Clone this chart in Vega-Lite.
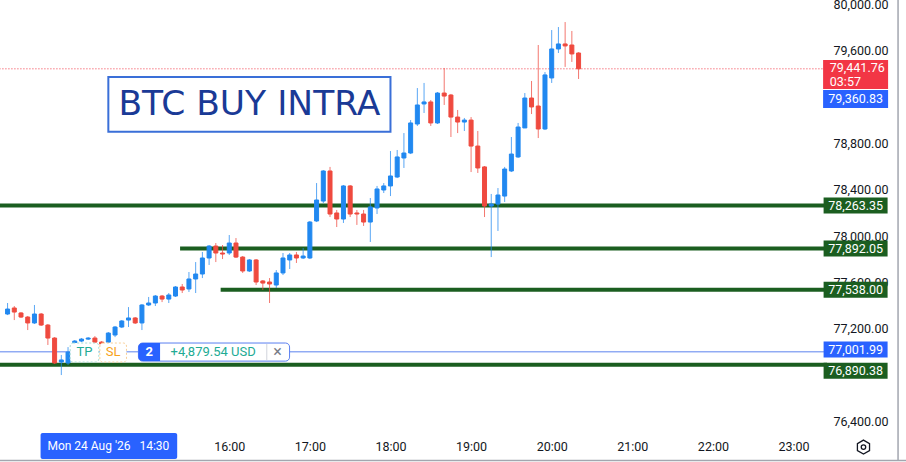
{
  "$schema": "https://vega.github.io/schema/vega-lite/v6.json",
  "width": 826,
  "height": 432,
  "autosize": "none",
  "padding": {"left": 0, "top": 0, "right": 80, "bottom": 30},
  "background": "white",
  "config": {"view": {"stroke": null}, "font": "Roboto"},
  "datasets": {
    "candles": [
      {"t":"2026-08-24T13:15","o":77328,"h":77423,"l":77319,"c":77371},
      {"t":"2026-08-24T13:20","o":77380,"h":77397,"l":77276,"c":77345},
      {"t":"2026-08-24T13:25","o":77337,"h":77345,"l":77294,"c":77302},
      {"t":"2026-08-24T13:30","o":77302,"h":77311,"l":77190,"c":77251},
      {"t":"2026-08-24T13:35","o":77251,"h":77406,"l":77242,"c":77328},
      {"t":"2026-08-24T13:40","o":77328,"h":77337,"l":77225,"c":77233},
      {"t":"2026-08-24T13:45","o":77233,"h":77242,"l":77061,"c":77121},
      {"t":"2026-08-24T13:50","o":77121,"h":77129,"l":76897,"c":76906},
      {"t":"2026-08-24T13:55","o":76914,"h":76975,"l":76802,"c":76932},
      {"t":"2026-08-24T14:00","o":76906,"h":77043,"l":76888,"c":77000},
      {"t":"2026-08-24T14:05","o":77078,"h":77104,"l":77052,"c":77095},
      {"t":"2026-08-24T14:10","o":77095,"h":77121,"l":77086,"c":77112},
      {"t":"2026-08-24T14:15","o":77112,"h":77129,"l":77104,"c":77121},
      {"t":"2026-08-24T14:20","o":77121,"h":77138,"l":77078,"c":77086},
      {"t":"2026-08-24T14:25","o":77086,"h":77095,"l":77052,"c":77069},
      {"t":"2026-08-24T14:30","o":77086,"h":77173,"l":77069,"c":77164},
      {"t":"2026-08-24T14:35","o":77147,"h":77225,"l":77129,"c":77216},
      {"t":"2026-08-24T14:40","o":77216,"h":77276,"l":77207,"c":77268},
      {"t":"2026-08-24T14:45","o":77276,"h":77388,"l":77216,"c":77294},
      {"t":"2026-08-24T14:50","o":77294,"h":77302,"l":77242,"c":77251},
      {"t":"2026-08-24T14:55","o":77251,"h":77414,"l":77190,"c":77406},
      {"t":"2026-08-24T15:00","o":77406,"h":77475,"l":77397,"c":77423},
      {"t":"2026-08-24T15:05","o":77423,"h":77492,"l":77397,"c":77483},
      {"t":"2026-08-24T15:10","o":77483,"h":77492,"l":77431,"c":77457},
      {"t":"2026-08-24T15:15","o":77457,"h":77509,"l":77423,"c":77492},
      {"t":"2026-08-24T15:20","o":77483,"h":77569,"l":77475,"c":77561},
      {"t":"2026-08-24T15:25","o":77561,"h":77587,"l":77509,"c":77535},
      {"t":"2026-08-24T15:30","o":77544,"h":77690,"l":77518,"c":77630},
      {"t":"2026-08-24T15:35","o":77630,"h":77776,"l":77509,"c":77673},
      {"t":"2026-08-24T15:40","o":77673,"h":77863,"l":77638,"c":77811},
      {"t":"2026-08-24T15:45","o":77811,"h":77923,"l":77751,"c":77914},
      {"t":"2026-08-24T15:50","o":77914,"h":77940,"l":77776,"c":77854},
      {"t":"2026-08-24T15:55","o":77854,"h":77923,"l":77802,"c":77845},
      {"t":"2026-08-24T16:00","o":77854,"h":78009,"l":77837,"c":77940},
      {"t":"2026-08-24T16:05","o":77940,"h":77983,"l":77811,"c":77819},
      {"t":"2026-08-24T16:10","o":77819,"h":77828,"l":77682,"c":77699},
      {"t":"2026-08-24T16:15","o":77699,"h":77802,"l":77690,"c":77794},
      {"t":"2026-08-24T16:20","o":77794,"h":77802,"l":77578,"c":77604},
      {"t":"2026-08-24T16:25","o":77613,"h":77621,"l":77535,"c":77595},
      {"t":"2026-08-24T16:30","o":77604,"h":77638,"l":77423,"c":77587},
      {"t":"2026-08-24T16:35","o":77578,"h":77707,"l":77552,"c":77682},
      {"t":"2026-08-24T16:40","o":77682,"h":77854,"l":77664,"c":77811},
      {"t":"2026-08-24T16:45","o":77794,"h":77854,"l":77716,"c":77837},
      {"t":"2026-08-24T16:50","o":77837,"h":77863,"l":77768,"c":77811},
      {"t":"2026-08-24T16:55","o":77811,"h":77897,"l":77802,"c":77828},
      {"t":"2026-08-24T17:00","o":77811,"h":78130,"l":77802,"c":78121},
      {"t":"2026-08-24T17:05","o":78130,"h":78457,"l":78121,"c":78311},
      {"t":"2026-08-24T17:10","o":78302,"h":78569,"l":78285,"c":78561},
      {"t":"2026-08-24T17:15","o":78561,"h":78596,"l":78164,"c":78190},
      {"t":"2026-08-24T17:20","o":78199,"h":78225,"l":78078,"c":78147},
      {"t":"2026-08-24T17:25","o":78147,"h":78440,"l":78113,"c":78432},
      {"t":"2026-08-24T17:30","o":78432,"h":78440,"l":78164,"c":78190},
      {"t":"2026-08-24T17:35","o":78199,"h":78225,"l":78096,"c":78190},
      {"t":"2026-08-24T17:40","o":78190,"h":78225,"l":78087,"c":78121},
      {"t":"2026-08-24T17:45","o":78121,"h":78328,"l":77949,"c":78251},
      {"t":"2026-08-24T17:50","o":78242,"h":78432,"l":78190,"c":78406},
      {"t":"2026-08-24T17:55","o":78397,"h":78457,"l":78371,"c":78432},
      {"t":"2026-08-24T18:00","o":78432,"h":78733,"l":78345,"c":78518},
      {"t":"2026-08-24T18:05","o":78509,"h":78742,"l":78500,"c":78682},
      {"t":"2026-08-24T18:10","o":78673,"h":78888,"l":78587,"c":78716},
      {"t":"2026-08-24T18:15","o":78716,"h":79000,"l":78707,"c":78975},
      {"t":"2026-08-24T18:20","o":78966,"h":79276,"l":78949,"c":79130},
      {"t":"2026-08-24T18:25","o":79139,"h":79320,"l":79061,"c":79156},
      {"t":"2026-08-24T18:30","o":79156,"h":79173,"l":78949,"c":78975},
      {"t":"2026-08-24T18:35","o":78975,"h":79242,"l":78966,"c":79233},
      {"t":"2026-08-24T18:40","o":79233,"h":79449,"l":79130,"c":79207},
      {"t":"2026-08-24T18:45","o":79216,"h":79225,"l":78854,"c":79026},
      {"t":"2026-08-24T18:50","o":79026,"h":79087,"l":78888,"c":78983},
      {"t":"2026-08-24T18:55","o":78983,"h":79018,"l":78906,"c":79000},
      {"t":"2026-08-24T19:00","o":79000,"h":79026,"l":78552,"c":78776},
      {"t":"2026-08-24T19:05","o":78776,"h":78906,"l":78544,"c":78587},
      {"t":"2026-08-24T19:10","o":78596,"h":78604,"l":78164,"c":78259},
      {"t":"2026-08-24T19:15","o":78259,"h":78363,"l":77819,"c":78276},
      {"t":"2026-08-24T19:20","o":78276,"h":78414,"l":78044,"c":78354},
      {"t":"2026-08-24T19:25","o":78345,"h":78596,"l":78294,"c":78578},
      {"t":"2026-08-24T19:30","o":78561,"h":78854,"l":78552,"c":78707},
      {"t":"2026-08-24T19:35","o":78682,"h":78975,"l":78673,"c":78940},
      {"t":"2026-08-24T19:40","o":78932,"h":79233,"l":78932,"c":79190},
      {"t":"2026-08-24T19:45","o":79190,"h":79337,"l":79052,"c":79113},
      {"t":"2026-08-24T19:50","o":79121,"h":79647,"l":78845,"c":78923},
      {"t":"2026-08-24T19:55","o":78923,"h":79414,"l":78914,"c":79389},
      {"t":"2026-08-24T20:00","o":79363,"h":79776,"l":79320,"c":79613},
      {"t":"2026-08-24T20:05","o":79613,"h":79802,"l":79578,"c":79656},
      {"t":"2026-08-24T20:10","o":79656,"h":79845,"l":79458,"c":79639},
      {"t":"2026-08-24T20:15","o":79647,"h":79768,"l":79501,"c":79570},
      {"t":"2026-08-24T20:20","o":79578,"h":79585,"l":79354,"c":79441.76}
    ],
    "levels": [
      {"p":78263.35,"from":"2026-08-24T13:00"},
      {"p":77892.05,"from":"2026-08-24T15:23:24"},
      {"p":77538.00,"from":"2026-08-24T15:53:36"},
      {"p":76890.38,"from":"2026-08-24T13:00"}
    ]
  },
  "layer": [
    {
      "data": {"name": "levels"},
      "mark": {"type": "rule", "strokeWidth": 4, "color": "#1b5e20"},
      "encoding": {
        "x": {"field": "from", "type": "temporal"},
        "x2": {"datum": {"year":2026,"month":8,"date":24,"hours":23,"minutes":25}},
        "y": {"field": "p", "type": "quantitative"}
      }
    },
    {
      "data": {"values": [{}]},
      "mark": {"type": "rule", "strokeWidth": 1, "color": "#5b82ee"},
      "encoding": {
        "x": {"datum": {"year":2026,"month":8,"date":24,"hours":13,"minutes":0}, "type": "temporal"},
        "x2": {"datum": {"year":2026,"month":8,"date":24,"hours":23,"minutes":25}},
        "y": {"datum": 77001.99, "type": "quantitative"}
      }
    },
    {
      "data": {"values": [{}]},
      "mark": {"type": "rule", "strokeWidth": 1, "color": "#f23645", "strokeDash": [1, 2]},
      "encoding": {
        "x": {"datum": {"year":2026,"month":8,"date":24,"hours":13,"minutes":0}, "type": "temporal"},
        "x2": {"datum": {"year":2026,"month":8,"date":24,"hours":23,"minutes":25}},
        "y": {"datum": 79441.76, "type": "quantitative"}
      }
    },
    {
      "data": {"name": "candles"},
      "mark": {"type": "rule", "strokeWidth": 1, "opacity": 0.75},
      "encoding": {
        "x": {
          "field": "t", "type": "temporal",
          "scale": {"domain": [
            {"year":2026,"month":8,"date":24,"hours":13,"minutes":13,"seconds":5},
            {"year":2026,"month":8,"date":24,"hours":23,"minutes":20,"seconds":27}
          ]},
          "axis": {
            "values": [
              {"year":2026,"month":8,"date":24,"hours":16},
              {"year":2026,"month":8,"date":24,"hours":17},
              {"year":2026,"month":8,"date":24,"hours":18},
              {"year":2026,"month":8,"date":24,"hours":19},
              {"year":2026,"month":8,"date":24,"hours":20},
              {"year":2026,"month":8,"date":24,"hours":21},
              {"year":2026,"month":8,"date":24,"hours":22},
              {"year":2026,"month":8,"date":24,"hours":23}
            ],
            "format": "%H:%M", "labelFontSize": 12.5, "labelColor": "#131722",
            "ticks": false, "domain": false, "grid": false, "title": null,
            "labelPadding": 8, "labelFlush": false, "labelOverlap": false
          }
        },
        "y": {
          "field": "l", "type": "quantitative",
          "scale": {"domain": [76311, 80035], "nice": false, "zero": false},
          "axis": {
            "orient": "right",
            "values": [76400, 77200, 77600, 78000, 78400, 78800, 79600, 80000],
            "format": ",.2f", "labelFontSize": 12.5, "labelColor": "#131722",
            "ticks": false, "domain": false, "grid": false, "title": null,
            "labelPadding": 7, "labelAlign": "left", "labelOverlap": false, "labelBound": false, "labelFlush": false
          }
        },
        "y2": {"field": "h"},
        "color": {"condition": {"test": "datum.c >= datum.o", "value": "#2188f0"}, "value": "#ef4a3f"}
      }
    },
    {
      "data": {"name": "candles"},
      "mark": {"type": "bar", "size": 4, "strokeWidth": 1},
      "encoding": {
        "x": {"field": "t", "type": "temporal"},
        "y": {"field": "o", "type": "quantitative"},
        "y2": {"field": "c"},
        "fill": {"condition": {"test": "datum.c >= datum.o", "value": "#2188f0"}, "value": "#ef4a3f"},
        "stroke": {"condition": {"test": "datum.c >= datum.o", "value": "#2188f0"}, "value": "#ef4a3f"}
      }
    },
    {
      "data": {"values": [{}]},
      "mark": {"type": "rect", "fill": "white", "stroke": "#3a6fd8", "strokeWidth": 2},
      "encoding": {
        "x": {"datum": {"year":2026,"month":8,"date":24,"hours":14,"minutes":30}, "type": "temporal"},
        "x2": {"datum": {"year":2026,"month":8,"date":24,"hours":18,"minutes":0}},
        "y": {"datum": 79371, "type": "quantitative"},
        "y2": {"datum": 78900}
      }
    },
    {
      "data": {"values": [{}]},
      "mark": {"type": "text", "text": "BTC BUY INTRA", "font": "DejaVu Sans", "fontSize": 34.5, "color": "#1a3a96", "align": "center", "baseline": "alphabetic"},
      "encoding": {
        "x": {"datum": {"year":2026,"month":8,"date":24,"hours":16,"minutes":15}, "type": "temporal"},
        "y": {"datum": 79044, "type": "quantitative"}
      }
    },
    {
      "data": {"values": [{}]},
      "mark": {"type": "rect", "fill": "white", "stroke": "#5a7ff0", "strokeWidth": 1, "cornerRadius": 4},
      "encoding": {
        "x": {"datum": {"year":2026,"month":8,"date":24,"hours":14,"minutes":52,"seconds":24}, "type": "temporal"},
        "x2": {"datum": {"year":2026,"month":8,"date":24,"hours":16,"minutes":44,"seconds":54}},
        "y": {"datum": 77078, "type": "quantitative"},
        "y2": {"datum": 76922}
      }
    },
    {
      "data": {"values": [{}]},
      "mark": {"type": "rect", "fill": "#2962ff", "cornerRadiusTopLeft": 4, "cornerRadiusBottomLeft": 4},
      "encoding": {
        "x": {"datum": {"year":2026,"month":8,"date":24,"hours":14,"minutes":52,"seconds":24}, "type": "temporal"},
        "x2": {"datum": {"year":2026,"month":8,"date":24,"hours":15,"minutes":8,"seconds":30}},
        "y": {"datum": 77078, "type": "quantitative"},
        "y2": {"datum": 76922}
      }
    },
    {
      "data": {"values": [{}]},
      "mark": {"type": "rule", "color": "#d1d4dc", "strokeWidth": 1},
      "encoding": {
        "x": {"datum": {"year":2026,"month":8,"date":24,"hours":16,"minutes":27,"seconds":56}, "type": "temporal"},
        "y": {"datum": 77070, "type": "quantitative"},
        "y2": {"datum": 76930}
      }
    },
    {
      "data": {"values": [{}]},
      "mark": {"type": "rect", "fill": "white", "stroke": "#a6ddd3", "strokeWidth": 1, "strokeDash": [2, 2], "cornerRadius": 3},
      "encoding": {
        "x": {"datum": {"year":2026,"month":8,"date":24,"hours":14,"minutes":1,"seconds":36}, "type": "temporal"},
        "x2": {"datum": {"year":2026,"month":8,"date":24,"hours":14,"minutes":22,"seconds":54}},
        "y": {"datum": 77078, "type": "quantitative"},
        "y2": {"datum": 76914}
      }
    },
    {
      "data": {"values": [{}]},
      "mark": {"type": "rect", "fill": "white", "stroke": "#f9cf96", "strokeWidth": 1, "strokeDash": [2, 2], "cornerRadius": 3},
      "encoding": {
        "x": {"datum": {"year":2026,"month":8,"date":24,"hours":14,"minutes":23,"seconds":42}, "type": "temporal"},
        "x2": {"datum": {"year":2026,"month":8,"date":24,"hours":14,"minutes":43,"seconds":30}},
        "y": {"datum": 77078, "type": "quantitative"},
        "y2": {"datum": 76914}
      }
    },
    {
      "data": {"values": [{}]},
      "mark": {"type": "text", "text": "TP", "fontSize": 13, "color": "#22ab94", "align": "center", "baseline": "middle"},
      "encoding": {
        "x": {"datum": {"year":2026,"month":8,"date":24,"hours":14,"minutes":12,"seconds":18}, "type": "temporal"},
        "y": {"datum": 77000, "type": "quantitative"}
      }
    },
    {
      "data": {"values": [{}]},
      "mark": {"type": "text", "text": "SL", "fontSize": 13, "color": "#f7a21b", "align": "center", "baseline": "middle"},
      "encoding": {
        "x": {"datum": {"year":2026,"month":8,"date":24,"hours":14,"minutes":33,"seconds":36}, "type": "temporal"},
        "y": {"datum": 77000, "type": "quantitative"}
      }
    },
    {
      "data": {"values": [{}]},
      "mark": {"type": "text", "text": "2", "fontSize": 13, "fontWeight": "bold", "color": "white", "align": "center", "baseline": "middle"},
      "encoding": {
        "x": {"datum": {"year":2026,"month":8,"date":24,"hours":15,"minutes":0,"seconds":24}, "type": "temporal"},
        "y": {"datum": 77000, "type": "quantitative"}
      }
    },
    {
      "data": {"values": [{}]},
      "mark": {"type": "text", "text": "+4,879.54 USD", "fontSize": 13, "color": "#22ab94", "align": "center", "baseline": "middle"},
      "encoding": {
        "x": {"datum": {"year":2026,"month":8,"date":24,"hours":15,"minutes":48}, "type": "temporal"},
        "y": {"datum": 77000, "type": "quantitative"}
      }
    },
    {
      "data": {"values": [{}]},
      "mark": {"type": "text", "text": "×", "fontSize": 16, "color": "#787b86", "align": "center", "baseline": "middle"},
      "encoding": {
        "x": {"datum": {"year":2026,"month":8,"date":24,"hours":16,"minutes":36}, "type": "temporal"},
        "y": {"datum": 77000, "type": "quantitative"}
      }
    },
    {
      "data": {"name": "levels"},
      "transform": [{"filter": "datum.p > 77000"}],
      "mark": {"type": "point", "shape": "M-2,-0.5H2V0.5H-2Z", "size": 1024, "filled": true, "fill": "#1b5e20", "opacity": 1, "strokeWidth": 0},
      "encoding": {
        "x": {"datum": {"year":2026,"month":8,"date":24,"hours":23,"minutes":46,"seconds":12}, "type": "temporal"},
        "y": {"field": "p", "type": "quantitative"}
      }
    },
    {
      "data": {"name": "levels"},
      "transform": [{"filter": "datum.p > 77000"}],
      "mark": {"type": "text", "fontSize": 12.5, "color": "white", "align": "center", "baseline": "middle"},
      "encoding": {
        "x": {"datum": {"year":2026,"month":8,"date":24,"hours":23,"minutes":46,"seconds":12}, "type": "temporal"},
        "y": {"field": "p", "type": "quantitative"},
        "text": {"field": "p", "type": "quantitative", "format": ",.2f"}
      }
    },
    {
      "data": {"values": [{}]},
      "mark": {"type": "point", "shape": "M-2,-0.5H2V0.5H-2Z", "size": 1024, "filled": true, "fill": "#1b5e20", "opacity": 1, "strokeWidth": 0},
      "encoding": {
        "x": {"datum": {"year":2026,"month":8,"date":24,"hours":23,"minutes":46,"seconds":12}, "type": "temporal"},
        "y": {"datum": 76838, "type": "quantitative"}
      }
    },
    {
      "data": {"values": [{}]},
      "mark": {"type": "text", "text": "76,890.38", "fontSize": 12.5, "color": "white", "align": "center", "baseline": "middle"},
      "encoding": {
        "x": {"datum": {"year":2026,"month":8,"date":24,"hours":23,"minutes":46,"seconds":12}, "type": "temporal"},
        "y": {"datum": 76838, "type": "quantitative"}
      }
    },
    {
      "data": {"values": [{}]},
      "mark": {"type": "point", "shape": "M-2,-0.5H2V0.5H-2Z", "size": 1024, "filled": true, "fill": "#2962ff", "opacity": 1, "strokeWidth": 0},
      "encoding": {
        "x": {"datum": {"year":2026,"month":8,"date":24,"hours":23,"minutes":46,"seconds":12}, "type": "temporal"},
        "y": {"datum": 77022, "type": "quantitative"}
      }
    },
    {
      "data": {"values": [{}]},
      "mark": {"type": "text", "text": "77,001.99", "fontSize": 12.5, "color": "white", "align": "center", "baseline": "middle"},
      "encoding": {
        "x": {"datum": {"year":2026,"month":8,"date":24,"hours":23,"minutes":46,"seconds":12}, "type": "temporal"},
        "y": {"datum": 77022, "type": "quantitative"}
      }
    },
    {
      "data": {"values": [{}]},
      "mark": {"type": "point", "shape": "M-1.1207,-0.5H1.1207V0.5H-1.1207Z", "size": 3364, "filled": true, "fill": "#f23645", "opacity": 1, "strokeWidth": 0},
      "encoding": {
        "x": {"datum": {"year":2026,"month":8,"date":24,"hours":23,"minutes":46,"seconds":12}, "type": "temporal"},
        "y": {"datum": 79393, "type": "quantitative"}
      }
    },
    {
      "data": {"values": [{}]},
      "mark": {"type": "point", "shape": "M-1.8056,-0.5H1.8056V0.5H-1.8056Z", "size": 1296, "filled": true, "fill": "#2962ff", "opacity": 1, "strokeWidth": 0},
      "encoding": {
        "x": {"datum": {"year":2026,"month":8,"date":24,"hours":23,"minutes":46,"seconds":12}, "type": "temporal"},
        "y": {"datum": 79182, "type": "quantitative"}
      }
    },
    {
      "data": {"values": [{}]},
      "mark": {"type": "text", "text": "79,441.76", "fontSize": 12.5, "color": "white", "align": "left", "baseline": "middle"},
      "encoding": {
        "x": {"datum": {"year":2026,"month":8,"date":24,"hours":23,"minutes":27,"seconds":0}, "type": "temporal"},
        "y": {"datum": 79449, "type": "quantitative"}
      }
    },
    {
      "data": {"values": [{}]},
      "mark": {"type": "text", "text": "03:57", "fontSize": 12.5, "color": "white", "align": "left", "baseline": "middle"},
      "encoding": {
        "x": {"datum": {"year":2026,"month":8,"date":24,"hours":23,"minutes":27,"seconds":0}, "type": "temporal"},
        "y": {"datum": 79328, "type": "quantitative"}
      }
    },
    {
      "data": {"values": [{}]},
      "mark": {"type": "text", "text": "79,360.83", "fontSize": 12.5, "color": "white", "align": "center", "baseline": "middle"},
      "encoding": {
        "x": {"datum": {"year":2026,"month":8,"date":24,"hours":23,"minutes":46,"seconds":12}, "type": "temporal"},
        "y": {"datum": 79182, "type": "quantitative"}
      }
    },
    {
      "data": {"values": [{}]},
      "mark": {"type": "rect", "fill": "#2962ff", "cornerRadius": 2},
      "encoding": {
        "x": {"datum": {"year":2026,"month":8,"date":24,"hours":13,"minutes":39,"seconds":34}, "type": "temporal"},
        "x2": {"datum": {"year":2026,"month":8,"date":24,"hours":15,"minutes":21,"seconds":15}},
        "y": {"datum": 76302, "type": "quantitative"},
        "y2": {"datum": 76078}
      }
    },
    {
      "data": {"values": [{}]},
      "mark": {"type": "text", "text": "Mon 24 Aug '26\u00a0\u00a0 14:30", "fontSize": 12, "color": "white", "align": "center", "baseline": "middle"},
      "encoding": {
        "x": {"datum": {"year":2026,"month":8,"date":24,"hours":14,"minutes":30}, "type": "temporal"},
        "y": {"datum": 76190, "type": "quantitative"}
      }
    },
    {
      "data": {"values": [{}]},
      "mark": {"type": "point", "shape": "M0,-1L0.866,-0.5L0.866,0.5L0,1L-0.866,0.5L-0.866,-0.5Z", "size": 196, "filled": false, "stroke": "#131722", "strokeWidth": 1.3, "opacity": 1},
      "encoding": {
        "x": {"datum": {"year":2026,"month":8,"date":24,"hours":23,"minutes":52,"seconds":4}, "type": "temporal"},
        "y": {"datum": 76181, "type": "quantitative"}
      }
    },
    {
      "data": {"values": [{}]},
      "mark": {"type": "point", "shape": "circle", "size": 20, "filled": false, "stroke": "#131722", "strokeWidth": 1.3, "opacity": 1},
      "encoding": {
        "x": {"datum": {"year":2026,"month":8,"date":24,"hours":23,"minutes":52,"seconds":4}, "type": "temporal"},
        "y": {"datum": 76181, "type": "quantitative"}
      }
    },
    {
      "data": {"values": [{}]},
      "mark": {"type": "rule", "color": "#a3a6af", "strokeWidth": 1.5},
      "encoding": {
        "x": {"datum": {"year":2026,"month":8,"date":25,"hours":0,"minutes":17,"seconds":48}, "type": "temporal"},
        "y": {"datum": 80500, "type": "quantitative"},
        "y2": {"datum": 76065}
      }
    },
    {
      "data": {"values": [{}]},
      "mark": {"type": "rule", "color": "#a3a6af", "strokeWidth": 1.5},
      "encoding": {
        "x": {"datum": {"year":2026,"month":8,"date":24,"hours":13,"minutes":0}, "type": "temporal"},
        "x2": {"datum": {"year":2026,"month":8,"date":25,"hours":0,"minutes":30}},
        "y": {"datum": 76065, "type": "quantitative"}
      }
    }
  ]
}
